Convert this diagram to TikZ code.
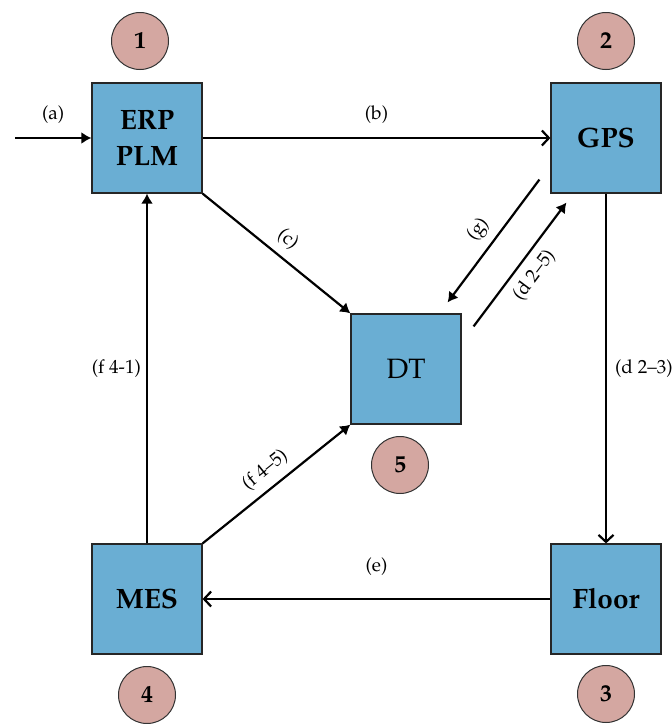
\documentclass[tikz,border=0pt]{standalone}
\usepackage[T1]{fontenc}
\usepackage{mathpazo}
\definecolor{blockblue}{HTML}{6AAED3}
\definecolor{badgerose}{HTML}{D4A7A1}
\usetikzlibrary{arrows.meta,calc}

\begin{document}
\begin{tikzpicture}[x=0.5pt,y=-0.5pt,
  block/.style={draw=black!85,fill=blockblue,minimum size=55pt,inner sep=0pt,line width=0.6pt,align=center,font=\fontsize{14}{18}\selectfont\bfseries},
  badge/.style={circle,draw=black!80,fill=badgerose,minimum size=28.5pt,inner sep=0pt,line width=0.5pt,font=\fontsize{12}{14}\selectfont\bfseries},
  flow/.style={line width=1.1pt,-{Latex[length=5pt,width=6pt]}},
  feed/.style={line width=1.1pt,-{Straight Barb[length=3.5pt,width=7.5pt]}},
  lbl/.style={font=\fontsize{9.5}{11}\selectfont,inner sep=2pt}]
  \useasboundingbox (0,0) rectangle (672,724);

  % Blocks
  \node[block] (erp) at (147,138) {ERP\\PLM};
  \node[block] (gps) at (606,138) {GPS};
  \node[block] (flo) at (606,599) {Floor};
  \node[block] (mes) at (147,599) {MES};
  \node[block,font=\fontsize{14}{18}\selectfont] (dt) at (406,369) {DT};

  % Badges
  \node[badge] (n1) at (140,41) {1};
  \node[badge] (n2) at (606,41) {2};
  \node[badge] (n3) at (606,694) {3};
  \node[badge] (n4) at (147,695) {4};
  \node[badge] (n5) at (400,465) {5};

  % Free ends
  \coordinate (in) at (15,138);
  \coordinate (g0) at ($(gps.south west)+(-11,-14)$);
  \coordinate (g1) at ($(dt.north east)+(-14,-11)$);
  \coordinate (d0) at ($(dt.north east)+(12,13)$);
  \coordinate (d1) at ($(gps.south west)+(16,9)$);

  % Connectors
  \draw[flow] (in) -- node[lbl,above=4.5pt] {(a)} (erp);
  \draw[feed] (erp) -- node[lbl,above=4.5pt] {(b)} (gps);
  \draw[flow] (erp.south east) -- node[lbl,above=2pt,sloped] {(c)} (dt.north west);
  \draw[flow] (g0) -- node[lbl,above=2pt,sloped] {(g)} (g1);
  \draw[flow] (d0) -- node[lbl,below=2pt,sloped] {(d 2--5)} (d1);
  \draw[feed] (gps) -- node[lbl,right=2pt] {(d 2--3)} (flo);
  \draw[feed] (flo) -- node[lbl,above=9pt] {(e)} (mes);
  \draw[flow] (mes) -- node[lbl,left=0.5pt] {(f 4-1)} (erp);
  \draw[flow] (mes.north east) -- node[lbl,above=2pt,sloped] {(f 4--5)} (dt.south west);
\end{tikzpicture}
\end{document}
